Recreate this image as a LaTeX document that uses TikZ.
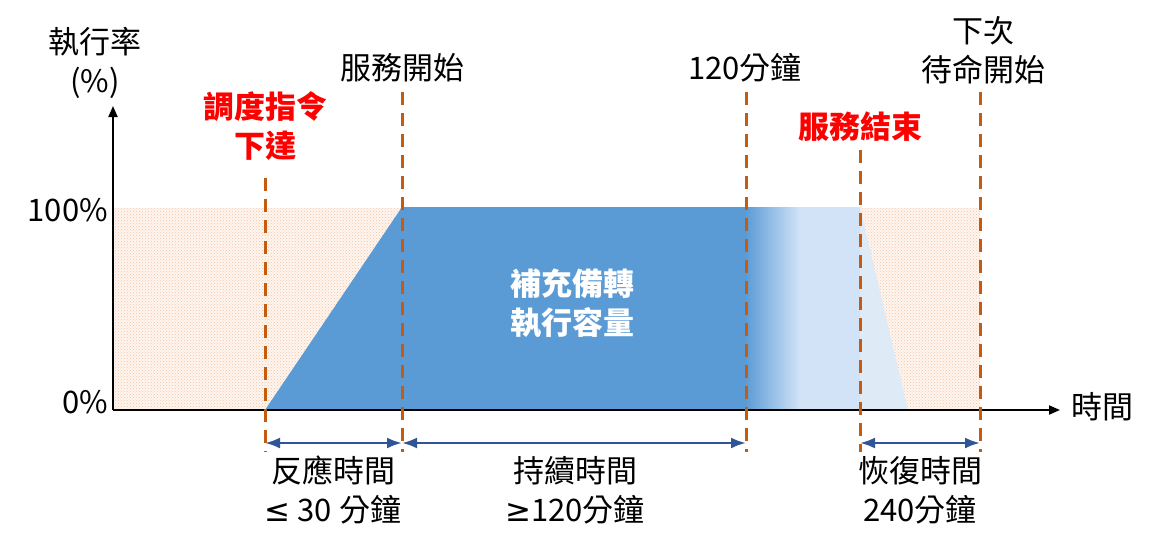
\documentclass[tikz,border=0pt]{standalone}
\usepackage{fontspec}
\setmainfont{Noto Sans CJK TC}
\newfontfamily\symfont{DejaVu Sans}
\usetikzlibrary{arrows.meta,patterns}

\definecolor{markerorange}{HTML}{C55A11}
\definecolor{fillblue}{HTML}{5B9BD5}
\definecolor{fadeblue}{HTML}{D2E3F7}
\definecolor{tailblue}{HTML}{DFEAF7}
\definecolor{spanblue}{HTML}{2F5597}
\definecolor{hatchpeach}{HTML}{F6C3A3}
\definecolor{bandpeach}{HTML}{FEF6F1}

\begin{document}
\begin{tikzpicture}[x=1pt, y=-1pt,
    lbl/.style={font=\fontsize{31}{39}\selectfont, align=center, inner sep=0pt},
    phase line/.style={draw=markerorange, line width=3pt, dash pattern=on 13pt off 8pt},
    span arrow/.style={draw=spanblue, line width=2.5pt,
        {Latex[length=15pt,width=11pt]}-{Latex[length=15pt,width=11pt]}},
    axis/.style={line width=2pt, -{Triangle[length=11pt,width=9pt]}}]
    \useasboundingbox (0,0) rectangle (1157,552);

    % Hatched standby band behind the curve
    \fill[bandpeach] (113,208) rectangle (980,410);
    \fill[pattern=crosshatch dots, pattern color=hatchpeach] (113,208) rectangle (980,410);

    % Ramp up and sustained capacity
    \fill[fillblue] (265,410) -- (402,207) -- (746,207) -- (746,410) -- cycle;

    % Fading out after 120 minutes
    \shade[left color=fillblue, right color=fadeblue] (745,207) rectangle (800,410);
    \fill[fadeblue] (799,207) rectangle (860,410);
    \fill[tailblue] (860,207) -- (908,410) -- (860,410) -- cycle;

    % Axes
    \coordinate (O) at (113,410);
    \coordinate (ytop) at (113,106);
    \coordinate (xend) at (1060,410);
    \draw[axis] (O) -- (ytop);
    \draw[axis] (O) -- (xend);

    % Dashed phase lines
    \foreach \n/\x/\t in {a/265/178, b/402/92, c/746/92, d/860/150, e/980/92} {
        \coordinate (\n-top) at (\x,\t);
        \coordinate (\n-bot) at (\x,452);
        \coordinate (\n-arr) at (\x,443);
        \draw[phase line] (\n-top) -- (\n-bot);
    }

    % Duration spans
    \draw[span arrow] (a-arr) -- (b-arr);
    \draw[span arrow] (b-arr) -- (c-arr);
    \draw[span arrow] (d-arr) -- (e-arr);

    % Axis labels
    \node[lbl] (ylabel) at (95,63) {執行率\\(\%)};
    \node[lbl, anchor=east] (full) at (108,210) {100\%};
    \node[lbl, anchor=east] (zero) at (108,402) {0\%};
    \node[lbl] (xlabel) at (1102,407) {時間};

    % Event labels
    \node[lbl, text=red, font=\fontsize{31}{39}\selectfont\bfseries] (dispatch) at (265,126) {調度指令\\下達};
    \node[lbl] (start) at (402,68) {服務開始};
    \node[lbl] (twohrs) at (745,68) {120分鐘};
    \node[lbl, text=red, font=\fontsize{31}{39}\selectfont\bfseries] (stop) at (860,127) {服務結束};
    \node[lbl] (standby) at (983,50) {下次\\待命開始};

    % Area label
    \node[lbl, text=white, font=\fontsize{31}{39}\selectfont\bfseries] (capacity) at (572,303) {補充備轉\\執行容量};

    % Span labels
    \node[lbl] (react) at (333,490) {反應時間\\{\symfont ≤} 30 分鐘};
    \node[lbl] (sustain) at (575,490) {持續時間\\{\symfont ≥}120分鐘};
    \node[lbl] (recover) at (920,490) {恢復時間\\240分鐘};
\end{tikzpicture}
\end{document}
